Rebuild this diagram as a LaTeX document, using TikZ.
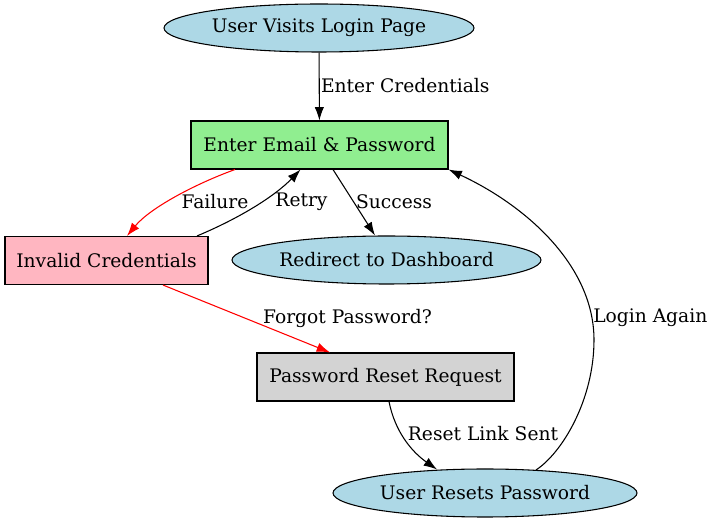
\documentclass[tikz,border=0pt]{standalone}
\usepackage{xcolor}
\usepackage{fontspec}
\setmainfont{DejaVu Serif}
\usepackage{tikz}
\usetikzlibrary{arrows.meta,calc,shapes.geometric}

\definecolor{lblue}{HTML}{ADD8E6}
\definecolor{lgreen}{HTML}{90EE90}
\definecolor{lpink}{HTML}{FFB6C1}
\definecolor{lgray}{HTML}{D3D3D3}

\begin{document}
\begin{tikzpicture}[x=0.75pt,y=0.75pt,yscale=-1,xscale=1,
  every node/.style={font=\fontsize{14}{16}\selectfont},
  oval/.style={draw,ellipse,fill=lblue,line width=0.8pt,inner sep=0pt,minimum height=36pt},
  box/.style={draw,rectangle,line width=0.8pt,inner sep=0pt,minimum height=36pt,minimum width=192.75pt},
  edge/.style={line width=0.8pt,-{Latex[length=10pt,width=7pt]}},
  failedge/.style={edge,red},
  lbl/.style={inner sep=0.75pt}]
\useasboundingbox (0,0) rectangle (711,523);

%Shape: Ellipse [visit]
\node[oval,minimum width=232.5pt] (visit) at (319,28) {User Visits Login Page};
%Shape: Rectangle [email]
\node[box,fill=lgreen] (email) at (319.5,145) {Enter Email \& Password};
%Shape: Rectangle [invalid]
\node[box,fill=lpink,minimum width=152.25pt] (invalid) at (106.5,260.5) {Invalid Credentials};
%Shape: Ellipse [redirect]
\node[oval,minimum width=231.75pt] (redirect) at (386.5,260) {Redirect to Dashboard};
%Shape: Rectangle [resetreq]
\node[box,fill=lgray] (resetreq) at (385.5,377) {Password Reset Request};
%Shape: Ellipse [resets]
\node[oval,minimum width=228pt] (resets) at (485,493) {User Resets Password};

%Straight Lines
\draw[edge] (visit) -- (email) node[lbl,anchor=west] at (319.5,86) {Enter Credentials};
%Curve Lines [failure]
\draw[failedge] ($(email.south)+(-84.5,0)$) .. controls (195,184) and (150,208) .. ($(invalid.north)+(20.5,0)$);
\node[lbl] (lfail) at (215,202) {Failure};
%Curve Lines [retry]
\draw[edge] ($(invalid.north)+(90.5,0)$) .. controls (240,218) and (275,196) .. ($(email.south)+(-19,0)$);
\node[lbl] (lretry) at (301.5,202) {Retry};
%Straight Lines [success]
\draw[edge] ($(email.south)+(13.5,0)$) -- ($(redirect.north)+(-11.5,0)$);
\node[lbl] (lsuccess) at (394,202) {Success};
%Straight Lines [forgot]
\draw[failedge] ($(invalid.south)+(56.5,0)$) -- ($(resetreq.north)+(-55.5,0)$);
\node[lbl] (lforgot) at (347.5,318) {Forgot Password?};
%Curve Lines [link sent]
\draw[edge] ($(resetreq.south)+(3.5,0)$) .. controls (395,432) and (412,452) .. ($(resets.north)+(-48,1)$);
\node[lbl] (lsent) at (483,434) {Reset Link Sent};
%Curve Lines [login again]
\draw[edge] ($(resets.north)+(51,1.5)$) .. controls (562,453) and (594,400) .. (594,340) .. controls (594,265) and (525,205) .. (email.south east);
\node[lbl,anchor=west] (lagain) at (592,318) {Login Again};

\end{tikzpicture}
\end{document}
